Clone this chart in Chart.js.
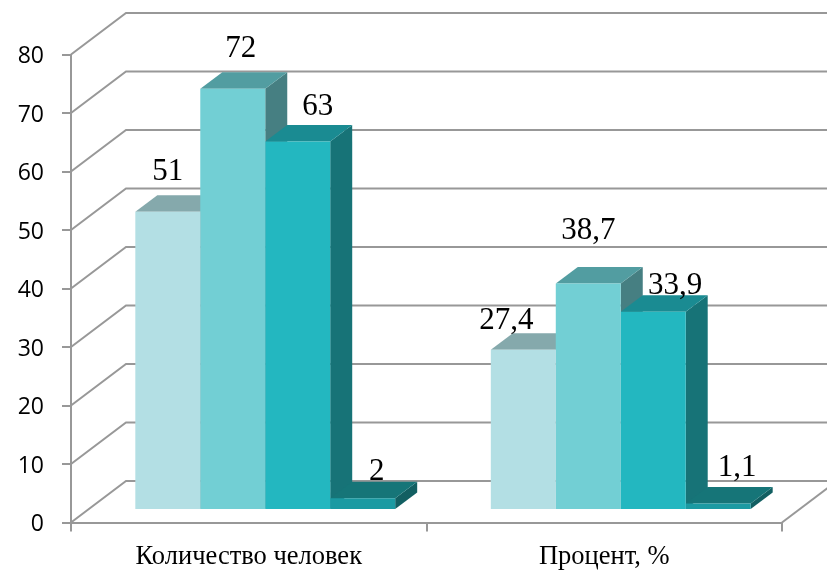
<!DOCTYPE html>
<html>
<head>
<meta charset="utf-8">
<title>Chart</title>
<style>
  html, body { margin: 0; padding: 0; background: #ffffff; }
  #wrap { width: 827px; height: 571px; }
</style>
<script src="https://cdn.jsdelivr.net/npm/chart.js@4"></script>
</head>
<body>
<div id="wrap"><canvas id="bars"></canvas></div>
<script>
var categories = ["Количество человек", "Процент, %"];
var series1 = [51, 27.4];
var series2 = [72, 38.7];
var series3 = [63, 33.9];
var series4 = [2, 1.1];
var yTicks = [0, 10, 20, 30, 40, 50, 60, 70, 80];

var frontColors = ["#b3dfe4", "#72cfd4", "#23b7c0", "#1b9aa2"];
var topColors = ["#85a9ac", "#529da1", "#1a8b92", "#167578"];
var sideColors = ["#6f9093", "#467f82", "#177377", "#125f62"];
var gridColor = "#989898";

// wall depth of the fake 3d box, and how far the bars sit inside it
var wallDx = 55, wallDy = 41.5;
var barInsetX = 16.5, barInsetY = 12.5;
var barDx = 22, barDy = 16.5;

// hand placed value labels, [x shift from bar centre, y shift from bar top], per series then category
var labelShift = [
  [[0, -32], [-17, -21]],
  [[8, -32], [0, -45]],
  [[20, -26], [22, -18]],
  [[14, -18], [19, -28]]
];

function poly(ctx, pts, color) {
  ctx.fillStyle = color;
  ctx.beginPath();
  ctx.moveTo(pts[0][0], pts[0][1]);
  for (var i = 1; i < pts.length; i++) ctx.lineTo(pts[i][0], pts[i][1]);
  ctx.closePath();
  ctx.fill();
}

var box3d = {
  id: "box3d",
  beforeDatasetsDraw: function(chart) {
    var ctx = chart.ctx;
    var y = chart.scales.y;
    var area = chart.chartArea;

    ctx.save();
    ctx.strokeStyle = gridColor;
    ctx.lineWidth = 2;
    yTicks.forEach(function(t) {
      var py = y.getPixelForValue(t);
      ctx.beginPath();
      ctx.moveTo(area.left, py);
      ctx.lineTo(area.left + wallDx, py - wallDy);
      ctx.lineTo(chart.width + 5, py - wallDy);
      ctx.stroke();
    });
    var floorY = y.getPixelForValue(0);
    ctx.beginPath();
    ctx.moveTo(area.right, floorY);
    ctx.lineTo(area.right + wallDx, floorY - wallDy);
    ctx.stroke();

    // bars are drawn by chart.js, only moved inside the box
    ctx.translate(barInsetX, -barInsetY);

    // top and side faces, left to right so they cover each other properly
    for (var c = 0; c < categories.length; c++) {
      for (var d = 0; d < chart.data.datasets.length; d++) {
        var bar = chart.getDatasetMeta(d).data[c];
        var l = bar.x - bar.width / 2, r = bar.x + bar.width / 2;
        poly(ctx, [[r, bar.y], [r + barDx, bar.y - barDy], [r + barDx, bar.base - barDy], [r, bar.base]], sideColors[d]);
        poly(ctx, [[l, bar.y], [l + barDx, bar.y - barDy], [r + barDx, bar.y - barDy], [r, bar.y]], topColors[d]);
      }
    }
  },
  afterDatasetsDraw: function(chart) {
    var ctx = chart.ctx;
    ctx.restore();

    ctx.save();
    ctx.fillStyle = "#000000";
    ctx.font = "31px 'Liberation Serif'";
    ctx.textAlign = "center";
    ctx.textBaseline = "alphabetic";
    chart.data.datasets.forEach(function(ds, d) {
      chart.getDatasetMeta(d).data.forEach(function(bar, c) {
        var text = String(ds.data[c]).replace(".", ",");
        ctx.fillText(text, bar.x + barInsetX + labelShift[d][c][0], bar.y - barInsetY + labelShift[d][c][1]);
      });
    });
    ctx.restore();
  }
};

document.addEventListener("DOMContentLoaded", function() {
  var barsCanvas = document.getElementById("bars").getContext("2d");
  var values = [series1, series2, series3, series4];
  var barsChart = new Chart(barsCanvas, {
    type: "bar",
    data: {
      labels: categories,
      datasets: values.map(function(v, i) {
        return {
          data: v,
          backgroundColor: frontColors[i],
          borderWidth: 0,
          categoryPercentage: 0.731,
          barPercentage: 1
        };
      })
    },
    plugins: [box3d],
    options: {
      responsive: true,
      maintainAspectRatio: false,
      animation: false,
      layout: {
        padding: { top: 54.5, right: 45, left: 0, bottom: 0 }
      },
      scales: {
        x: {
          afterFit: function(scale) { scale.height = 48.5; },
          border: { color: gridColor, width: 2 },
          grid: { drawOnChartArea: false, color: gridColor, lineWidth: 2, tickLength: 9 },
          ticks: {
            maxRotation: 0,
            padding: 10,
            color: "#000000",
            font: { family: "'Liberation Serif'", size: 26.5 }
          }
        },
        y: {
          min: 0,
          max: 80,
          afterFit: function(scale) { scale.width = 71; },
          border: { color: gridColor, width: 2 },
          grid: { drawOnChartArea: false, color: gridColor, lineWidth: 2, tickLength: 9 },
          afterBuildTicks: function(scale) {
            scale.ticks = yTicks.map(function(t) { return { value: t }; });
          },
          ticks: {
            padding: 18,
            labelOffset: 2,
            color: "#000000",
            font: { family: "'Open Sans'", size: 23 }
          }
        }
      },
      plugins: {
        legend: { display: false },
        tooltip: { enabled: false }
      }
    }
  });
});
</script>
</body>
</html>
